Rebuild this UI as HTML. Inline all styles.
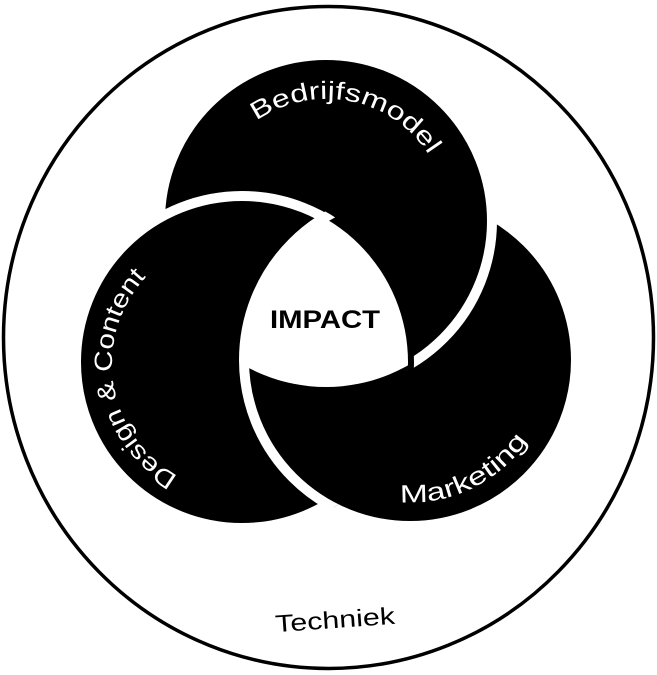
<!DOCTYPE html>
<html><head><meta charset="utf-8"><style>
html,body{margin:0;padding:0;background:#fff;}
svg{display:block;}
text{font-family:"Liberation Sans",sans-serif;}
</style></head><body>
<svg width="657" height="675" viewBox="0 0 657 675" xmlns="http://www.w3.org/2000/svg">
<defs>
<clipPath id="cL"><circle cx="242" cy="362" r="166"/></clipPath>
<clipPath id="cLb"><circle cx="242" cy="362" r="172"/></clipPath>
<clipPath id="cT"><circle cx="326" cy="221" r="166"/></clipPath>
<clipPath id="cR"><circle cx="410" cy="360" r="166"/></clipPath>
<path id="pB" d="M256.4,120.9 A122,122 0 0 1 437.4,170.5"/>
<path id="pD" d="M178,476 A128,128 0 0 1 160,264"/>
<path id="pM" d="M400,502 A142,142 0 0 0 530,437"/>
</defs>
<ellipse cx="328.5" cy="337.5" rx="325" ry="331" fill="none" stroke="#000" stroke-width="3.5"/>
<circle cx="410" cy="360" r="166" fill="#000" stroke="#fff" stroke-width="10"/>
<circle cx="326" cy="221" r="166" fill="#000" stroke="#fff" stroke-width="10"/>
<circle cx="242" cy="362" r="166" fill="#000" stroke="#fff" stroke-width="10"/>
<g clip-path="url(#cLb)">
<circle cx="410" cy="360" r="166" fill="#000" stroke="#fff" stroke-width="10"/>
</g>
<g clip-path="url(#cL)"><g clip-path="url(#cT)"><g clip-path="url(#cR)">
<rect x="0" y="0" width="657" height="675" fill="#fff"/>
</g></g></g>
<text font-size="25" fill="#fff"><textPath href="#pB" textLength="196" lengthAdjust="spacingAndGlyphs">Bedrijfsmodel</textPath></text>
<text font-size="25" fill="#fff"><textPath href="#pD" textLength="232" lengthAdjust="spacingAndGlyphs">Design &amp; Content</textPath></text>
<text font-size="25" fill="#fff"><textPath href="#pM" textLength="148" lengthAdjust="spacingAndGlyphs">Marketing</textPath></text>
<text x="325" y="328" font-size="25" font-weight="bold" fill="#000" text-anchor="middle" textLength="110" lengthAdjust="spacingAndGlyphs">IMPACT</text>
<text x="335" y="628" font-size="24" fill="#000" text-anchor="middle" textLength="120" lengthAdjust="spacingAndGlyphs" transform="rotate(-4 335 620)">Techniek</text>
</svg>
</body></html>
